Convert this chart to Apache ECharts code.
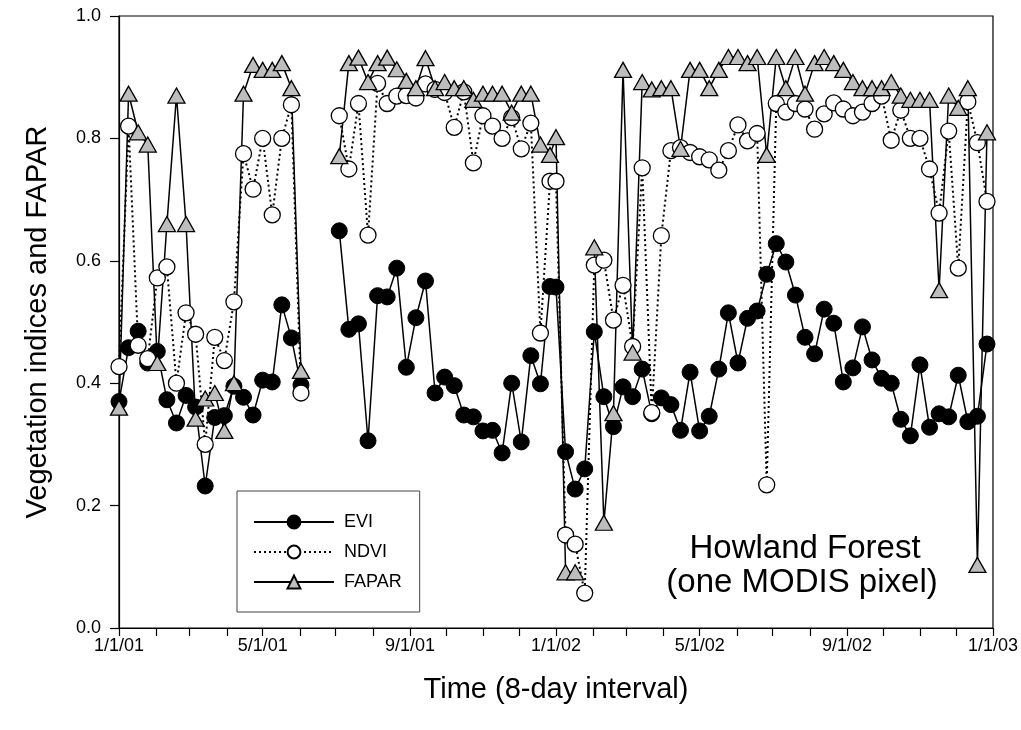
<!DOCTYPE html>
<html>
<head>
<meta charset="utf-8">
<title>Howland Forest</title>
<script src="https://cdn.jsdelivr.net/npm/echarts@6/dist/echarts.min.js"></script>
<style>
  html, body { margin: 0; padding: 0; background: #fff; }
  #main { width: 1021px; height: 730px; }
</style>
</head>
<body>
<div id="main"></div>
<script>
// 8-day composites, 46 per year. null = no value
var evi2001 = [0.37, 0.458, 0.485, 0.433, 0.452, 0.373, 0.335, 0.38, 0.361, 0.232,
  0.344, 0.347, 0.395, 0.377, 0.348, 0.405, 0.402, 0.528, 0.474, 0.397,
  null, null, null, 0.649, 0.488, 0.497, 0.306, 0.543, 0.541, 0.588,
  0.426, 0.507, 0.567, 0.384, 0.41, 0.396, 0.348, 0.345, 0.322, 0.323,
  0.286, 0.40, 0.304, 0.445, 0.399, 0.558];
var evi2002 = [0.557, 0.288, 0.227, 0.26, 0.484, 0.378, 0.329, 0.394, 0.378, 0.423,
  0.35, 0.376, 0.365, 0.323, 0.418, 0.322, 0.346, 0.423, 0.515, 0.433,
  0.506, 0.518, 0.578, 0.628, 0.598, 0.544, 0.475, 0.448, 0.521, 0.498,
  0.402, 0.425, 0.492, 0.438, 0.408, 0.40, 0.341, 0.314, 0.43, 0.328,
  0.35, 0.345, 0.413, 0.337, 0.346, 0.464];

var ndvi2001 = [0.427, 0.82, 0.462, 0.44, 0.572, 0.59, 0.40, 0.515, 0.48, 0.30,
  0.475, 0.437, 0.533, 0.775, 0.717, 0.80, 0.675, 0.80, 0.855, 0.384,
  null, null, null, 0.837, 0.75, 0.857, 0.642, 0.89, 0.857, 0.869,
  0.87, 0.866, 0.889, 0.88, 0.875, 0.818, 0.876, 0.76, 0.837, 0.82,
  0.80, 0.834, 0.783, 0.825, 0.482, 0.73];
var ndvi2002 = [0.73, 0.152, 0.137, 0.057, 0.593, 0.601, 0.503, 0.56, 0.46, 0.752,
  0.352, 0.641, 0.78, 0.785, 0.777, 0.77, 0.765, 0.748, 0.78, 0.822,
  0.796, 0.808, 0.234, 0.857, 0.843, 0.857, 0.848, 0.815, 0.84, 0.858,
  0.848, 0.837, 0.843, 0.857, 0.869, 0.797, 0.846, 0.80, 0.80, 0.75,
  0.678, 0.812, 0.588, 0.86, 0.793, 0.697];

var fapar2001 = [0.36, 0.873, 0.81, 0.79, 0.433, 0.66, 0.87, 0.66, 0.342, 0.375,
  0.384, 0.322, 0.40, 0.873, 0.92, 0.912, 0.912, 0.923, 0.882, 0.42,
  null, null, null, 0.771, 0.923, 0.932, 0.892, 0.923, 0.932, 0.913,
  0.894, 0.882, 0.931, 0.882, 0.892, 0.882, 0.882, 0.863, 0.873, 0.873,
  0.873, 0.842, 0.873, 0.873, 0.79, 0.773];
var fapar2002 = [0.802, 0.091, 0.091, null, 0.622, 0.172, 0.351, 0.912, 0.45, 0.892,
  0.88, 0.882, 0.882, 0.783, 0.912, 0.912, 0.882, 0.912, 0.933, 0.933,
  0.923, 0.933, 0.773, 0.933, 0.882, 0.933, 0.873, 0.923, 0.933, 0.923,
  0.912, 0.892, 0.882, 0.882, 0.882, 0.892, 0.87, 0.863, 0.863, 0.863,
  0.552, 0.87, 0.85, 0.882, 0.103, 0.81];

var tickLabels = ['1/1/01', '5/1/01', '9/1/01', '1/1/02', '5/1/02', '9/1/02', '1/1/03'];

// x axis runs in days since 1/1/01
var DAY = 86400000;
var t0 = Date.UTC(2001, 0, 1);
function dayOf(y, m) { return Math.round((Date.UTC(y, m, 1) - t0) / DAY); }

var monthDays = [];
for (var m = 0; m <= 24; m++) monthDays.push(dayOf(2001 + Math.floor(m / 12), m % 12));
var labelDays = [];
for (var k = 0; k <= 24; k += 4) labelDays.push(monthDays[k]);

// composite start day: year offset + 8 * index
function pairs(v2001, v2002) {
  var out = [];
  v2001.forEach(function (v, i) { out.push([8 * i, v]); });
  v2002.forEach(function (v, i) { out.push([365 + 8 * i, v]); });
  return out;
}

var myChart = echarts.init(document.getElementById('main'));
var font = 'Liberation Sans, Arial, sans-serif';

myChart.setOption({
  animation: false,
  textStyle: { fontFamily: font, color: '#000' },
  grid: { left: 119, right: 28, top: 16, bottom: 102, show: true, borderColor: '#000', borderWidth: 1.2 },
  legend: {
    orient: 'vertical',
    left: 237, top: 491,
    padding: [22, 18, 21, 16],
    itemGap: 12,
    itemWidth: 80, itemHeight: 16,
    borderColor: '#444', borderWidth: 1,
    textStyle: { fontFamily: font, fontSize: 18, color: '#000', padding: [0, 0, 0, 5] },
    data: ['EVI', 'NDVI', 'FAPAR']
  },
  graphic: [
    { type: 'text', x: 805, y: 549, style: { text: 'Howland Forest', font: '33px ' + font, fill: '#000', textAlign: 'center', textVerticalAlign: 'middle' } },
    { type: 'text', x: 802, y: 583, style: { text: '(one MODIS pixel)', font: '33px ' + font, fill: '#000', textAlign: 'center', textVerticalAlign: 'middle' } }
  ],
  xAxis: {
    type: 'value', min: 0, max: 730,
    name: 'Time (8-day interval)', nameLocation: 'middle', nameGap: 47,
    nameTextStyle: { fontSize: 29, fontFamily: font, color: '#000' },
    axisLine: { lineStyle: { color: '#000', width: 1.2 } },
    axisTick: { customValues: monthDays, length: 8, lineStyle: { color: '#000', width: 1.2 } },
    axisLabel: {
      customValues: labelDays, fontSize: 18, color: '#000', margin: 9,
      formatter: function (v) { return tickLabels[labelDays.indexOf(Math.round(v))]; }
    },
    splitLine: { show: false }
  },
  yAxis: {
    type: 'value', min: 0, max: 1, interval: 0.2,
    name: 'Vegetation indices and FAPAR', nameLocation: 'middle', nameGap: 67,
    nameTextStyle: { fontSize: 29, fontFamily: font, color: '#000' },
    axisLine: { lineStyle: { color: '#000', width: 1.2 } },
    axisTick: { length: 9, lineStyle: { color: '#000', width: 1.2 } },
    axisLabel: { fontSize: 18, color: '#000', margin: 18, formatter: function (v) { return v.toFixed(1); } },
    splitLine: { show: false }
  },
  series: [
    {
      name: 'EVI', type: 'line', data: pairs(evi2001, evi2002),
      connectNulls: false,
      symbol: 'circle', symbolSize: 16,
      itemStyle: { color: '#000', borderColor: '#000', borderWidth: 1 },
      lineStyle: { color: '#000', width: 1.5 }
    },
    {
      name: 'NDVI', type: 'line', data: pairs(ndvi2001, ndvi2002),
      connectNulls: false,
      symbol: 'circle', symbolSize: 16,
      itemStyle: { color: '#fff', borderColor: '#000', borderWidth: 1.3 },
      lineStyle: { color: '#000', width: 2, type: [2, 3] }
    },
    {
      name: 'FAPAR', type: 'line', data: pairs(fapar2001, fapar2002),
      connectNulls: false,
      symbol: 'triangle', symbolSize: [17, 15],
      itemStyle: { color: '#bdbdbd', borderColor: '#000', borderWidth: 1.3 },
      lineStyle: { color: '#000', width: 1.5 }
    }
  ]
});
</script>
</body>
</html>
